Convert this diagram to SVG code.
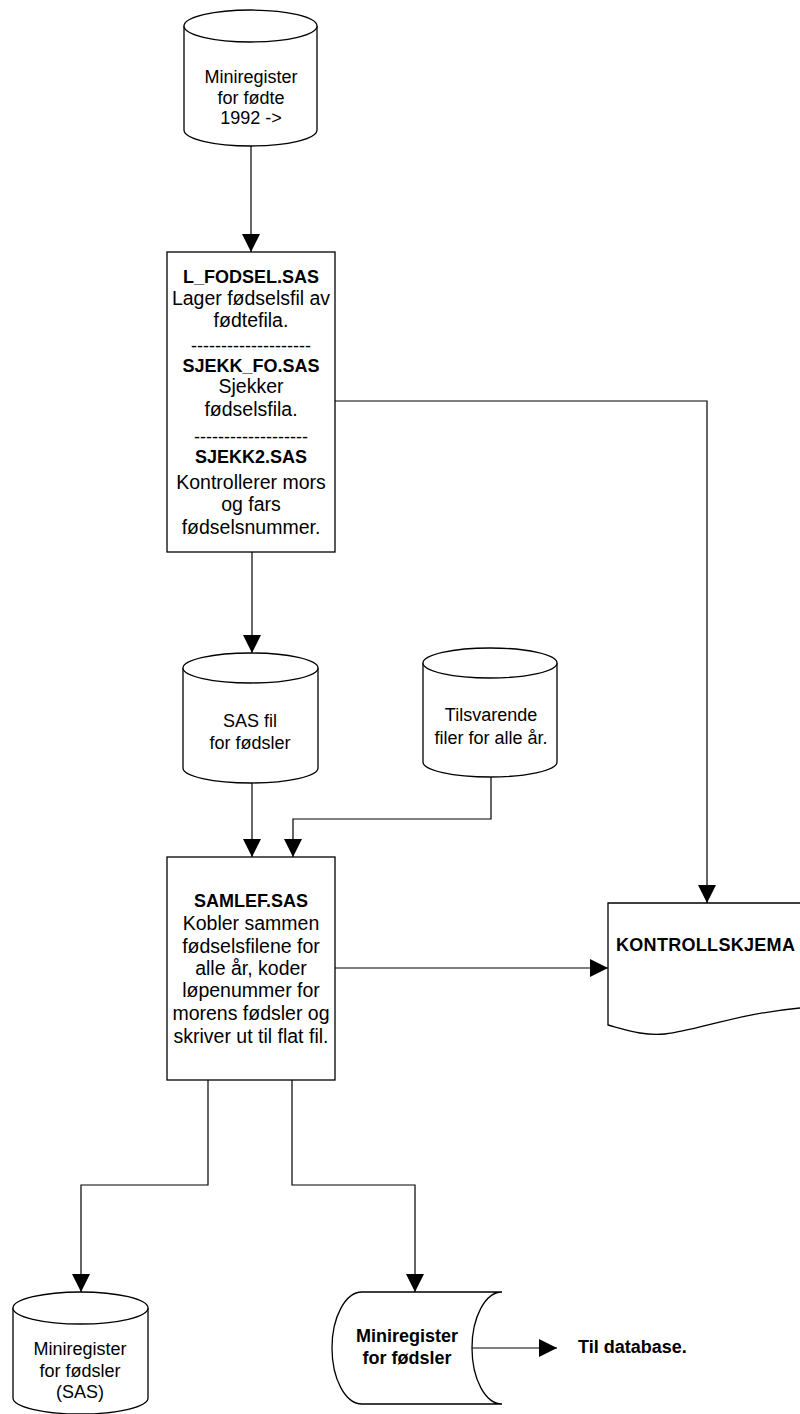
<svg xmlns="http://www.w3.org/2000/svg" width="800" height="1414" viewBox="0 0 800 1414">
<style>
.shape{fill:#fff;stroke:#000;stroke-width:1.3}
.conn{fill:none;stroke:#000;stroke-width:1.2}
.t{font-family:"Liberation Sans",Arial,sans-serif;font-size:18px;fill:#000;text-anchor:middle}
.m{font-size:19.5px}
.b{font-weight:bold}
</style>
<defs>
<marker id="arr" markerUnits="userSpaceOnUse" markerWidth="18" markerHeight="18" refX="18" refY="9" orient="auto">
<path d="M0,0 L18,9 L0,18 Z" fill="#000"/>
</marker>
</defs>
<rect width="800" height="1414" fill="#fff"/>
<g id="connectors">
<path class="conn" d="M251 146 L251 252" marker-end="url(#arr)"/>
<path class="conn" d="M335 401 L707 401 L707 903" marker-end="url(#arr)"/>
<path class="conn" d="M252 552 L252 653" marker-end="url(#arr)"/>
<path class="conn" d="M252 783 L252 857" marker-end="url(#arr)"/>
<path class="conn" d="M491 777 L491 819 L293 819 L293 857" marker-end="url(#arr)" stroke="#333"/>
<path class="conn" d="M335 968 L608 968" marker-end="url(#arr)"/>
<path class="conn" d="M208 1080 L208 1185 L81 1185 L81 1292" marker-end="url(#arr)"/>
<path class="conn" d="M292 1080 L292 1185 L415 1185 L415 1292" marker-end="url(#arr)"/>
<path class="conn" d="M472 1348 L557 1348" marker-end="url(#arr)"/>
</g>
<g id="n_miniregister_fodte">
<path class="shape" d="M184 26 A66.5 16 0 0 1 317 26 L317 130 A66.5 16 0 0 1 184 130 Z"/>
<path class="shape" fill="none" d="M184 26 A66.5 16 0 0 0 317 26"/>
<text class="t" x="251" y="83">Miniregister</text>
<text class="t" x="251" y="104">for fødte</text>
<text class="t" x="251" y="124">1992 -&gt;</text>
</g>
<g id="n_l_fodsel">
<rect class="shape" x="167" y="252" width="168" height="300"/>
<text class="t b" x="251" y="283">L_FODSEL.SAS</text>
<text class="t m" x="251" y="305">Lager fødselsfil av</text>
<text class="t m" x="251" y="327">fødtefila.</text>
<text class="t" x="251" y="352">--------------------</text>
<text class="t b" x="251" y="372">SJEKK_FO.SAS</text>
<text class="t m" x="251" y="393">Sjekker</text>
<text class="t m" x="251" y="416">fødselsfila.</text>
<text class="t" x="251" y="443">-------------------</text>
<text class="t b" x="251" y="463">SJEKK2.SAS</text>
<text class="t m" x="251" y="489">Kontrollerer mors</text>
<text class="t m" x="251" y="511">og fars</text>
<text class="t m" x="251" y="534">fødselsnummer.</text>
</g>
<g id="n_sas_fil">
<path class="shape" d="M183 668 A67.5 15 0 0 1 318 668 L318 768 A67.5 15 0 0 1 183 768 Z"/>
<path class="shape" fill="none" d="M183 668 A67.5 15 0 0 0 318 668"/>
<text class="t" x="250" y="727">SAS fil</text>
<text class="t" x="250" y="749">for fødsler</text>
</g>
<g id="n_tilsvarende">
<path class="shape" d="M423 663 A67 15 0 0 1 557 663 L557 762 A67 15 0 0 1 423 762 Z"/>
<path class="shape" fill="none" d="M423 663 A67 15 0 0 0 557 663"/>
<text class="t" x="491" y="721">Tilsvarende</text>
<text class="t" x="491" y="744">filer for alle år.</text>
</g>
<g id="n_samlef">
<rect class="shape" x="167" y="857" width="168" height="223"/>
<text class="t b" x="251" y="907">SAMLEF.SAS</text>
<text class="t m" x="251" y="930">Kobler sammen</text>
<text class="t m" x="251" y="953">fødselsfilene for</text>
<text class="t m" x="251" y="975">alle år, koder</text>
<text class="t m" x="251" y="997">løpenummer for</text>
<text class="t m" x="251" y="1020">morens fødsler og</text>
<text class="t m" x="251" y="1043">skriver ut til flat fil.</text>
</g>
<g id="n_kontrollskjema">
<path class="shape" d="M608 903 L812 903 L812 1007 C740 1012 700 1030 665 1034 C645 1036 630 1031 608 1025 Z"/>
<text class="t b" x="616" y="951" style="text-anchor:start;letter-spacing:0.3px">KONTROLLSKJEMA</text>
</g>
<g id="n_miniregister_sas">
<path class="shape" d="M13 1308 A67.5 16 0 0 1 148 1308 L148 1398 A67.5 16 0 0 1 13 1398 Z"/>
<path class="shape" fill="none" d="M13 1308 A67.5 16 0 0 0 148 1308"/>
<text class="t" x="80" y="1355">Miniregister</text>
<text class="t" x="80" y="1377">for fødsler</text>
<text class="t" x="80" y="1398">(SAS)</text>
</g>
<g id="n_miniregister_flat">
<path class="shape" d="M362 1292 L502 1292 A30 56 0 0 0 502 1404 L362 1404 A30 56 0 0 1 362 1292 Z"/>
<text class="t b" x="407" y="1342">Miniregister</text>
<text class="t b" x="407" y="1364">for fødsler</text>
</g>
<g id="n_til_database">
<text class="t b" x="578" y="1353" style="text-anchor:start">Til database.</text>
</g>
</svg>
